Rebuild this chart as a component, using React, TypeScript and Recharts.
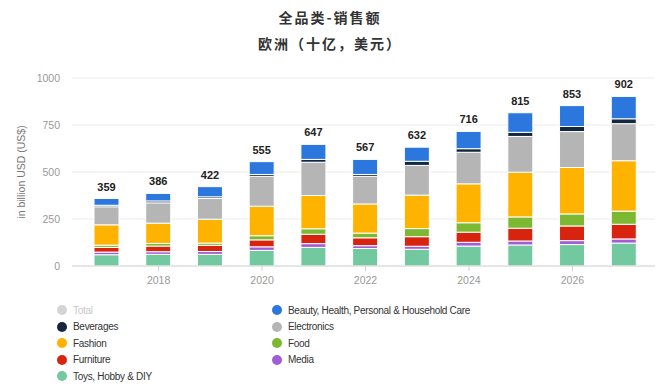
import { BarChart, Bar, XAxis, YAxis, CartesianGrid, LabelList, Label } from 'recharts';

const years = ['2017', '2018', '2019', '2020', '2021', '2022', '2023', '2024', '2025', '2026', '2027'];
const toys = [60, 62, 62, 83, 99, 93, 89, 106, 112, 114, 122];
const media = [14, 14, 15, 19, 20, 15, 16, 20, 21, 21, 22];
const furniture = [25, 30, 33, 37, 50, 42, 51, 54, 68, 78, 78];
const food = [12, 14, 12, 22, 29, 25, 43, 50, 60, 64, 70];
const fashion = [108, 108, 127, 157, 177, 155, 178, 207, 238, 247, 268];
const electronics = [96, 108, 110, 159, 177, 147, 158, 168, 190, 191, 197];
const beverages = [8, 10, 9, 10, 15, 10, 22, 19, 22, 27, 26];
const beauty = [36, 40, 54, 68, 80, 80, 75, 92, 104, 111, 119];
const totals = [359, 386, 422, 555, 647, 567, 632, 716, 815, 853, 902];
const yTicks = [0, 250, 500, 750, 1000];

const data = years.map((year, i) => ({
  year,
  toys: toys[i],
  media: media[i],
  furniture: furniture[i],
  food: food[i],
  fashion: fashion[i],
  electronics: electronics[i],
  beverages: beverages[i],
  beauty: beauty[i],
  total: totals[i],
}));

// bottom to top
const series = [
  { key: 'toys', name: 'Toys, Hobby & DIY', color: '#72c9a0' },
  { key: 'media', name: 'Media', color: '#a25cd6' },
  { key: 'furniture', name: 'Furniture', color: '#d8230f' },
  { key: 'food', name: 'Food', color: '#7cb832' },
  { key: 'fashion', name: 'Fashion', color: '#fdb300' },
  { key: 'electronics', name: 'Electronics', color: '#b5b5b5' },
  { key: 'beverages', name: 'Beverages', color: '#13283f' },
  { key: 'beauty', name: 'Beauty, Health, Personal & Household Care', color: '#2c77dd' },
];

const leftLegend = [
  { name: 'Total', color: '#d4d4d4', muted: true },
  { name: 'Beverages', color: '#13283f' },
  { name: 'Fashion', color: '#fdb300' },
  { name: 'Furniture', color: '#d8230f' },
  { name: 'Toys, Hobby & DIY', color: '#72c9a0' },
];
const rightLegend = [
  { name: 'Beauty, Health, Personal & Household Care', color: '#2c77dd' },
  { name: 'Electronics', color: '#b5b5b5' },
  { name: 'Food', color: '#7cb832' },
  { name: 'Media', color: '#a25cd6' },
];

const font = '"Liberation Sans", Arial, sans-serif';

function YearTick(props: any) {
  const { x, y, payload } = props;
  const yr = Number(payload.value);
  if (yr % 2 !== 0) return null;
  return (
    <g>
      <line x1={x} x2={x} y1={y - 8} y2={y - 3} stroke="#cfcfcf" />
      <text x={x} y={y + 10} textAnchor="middle" fontSize={10.5} fill="#999" fontFamily={font}>
        {payload.value}
      </text>
    </g>
  );
}

function LegendColumn({ items, left }: { items: any[]; left: number }) {
  return (
    <div style={{ position: 'absolute', left, top: 302 }}>
      {items.map((it) => (
        <div key={it.name} style={{ display: 'flex', alignItems: 'center', height: 16.5 }}>
          <span
            style={{
              display: 'inline-block',
              width: 10,
              height: 10,
              borderRadius: 5,
              background: it.color,
              marginRight: 6,
            }}
          />
          <span
            style={{
              fontSize: 10,
              letterSpacing: -0.3,
              color: it.muted ? '#c8c8c8' : '#333',
              fontFamily: font,
            }}
          >
            {it.name}
          </span>
        </div>
      ))}
    </div>
  );
}

const titleStyle = {
  position: 'absolute' as const,
  width: 660,
  textAlign: 'center' as const,
  fontFamily: '"Noto Sans CJK SC", sans-serif',
  fontWeight: 600,
  fontSize: 14,
  letterSpacing: 2,
  color: '#333',
};

export default function App() {
  return (
    <div style={{ position: 'absolute', left: 0, top: 0, width: 660, height: 387, background: '#fff', overflow: 'hidden' }}>
      <div style={{ ...titleStyle, top: 7 }}>全品类-销售额</div>
      <div style={{ ...titleStyle, top: 33 }}>欧洲（十亿，美元）</div>
      <div style={{ position: 'absolute', left: 0, top: 0 }}>
        <BarChart
          width={660}
          height={387}
          data={data}
          margin={{ top: 78, right: 5, bottom: 91, left: 0 }}
          barSize={25}
        >
          <CartesianGrid vertical={false} stroke="#ebebeb" />
          <XAxis
            dataKey="year"
            interval={0}
            padding={{ left: 9, right: 5 }}
            axisLine={{ stroke: '#d6d6d6' }}
            tickLine={false}
            tick={<YearTick />}
            height={30}
          />
          <YAxis
            width={72}
            domain={[0, 1000]}
            ticks={yTicks}
            axisLine={false}
            tickLine={false}
            tickSize={0}
            tickMargin={12}
            tick={{ fontSize: 10.5, fill: '#999', fontFamily: font }}
          >
            <Label
              value="in billion USD (US$)"
              angle={-90}
              position="insideLeft"
              offset={21}
              style={{ textAnchor: 'middle', fontSize: 10.5, fill: '#777', fontFamily: font }}
            />
          </YAxis>
          {series.map((s, idx) => (
            <Bar
              key={s.key}
              dataKey={s.key}
              name={s.name}
              stackId="a"
              fill={s.color}
              stroke="#ffffff"
              strokeWidth={1}
              isAnimationActive={false}
            >
              {idx === series.length - 1 && (
                <LabelList
                  dataKey="total"
                  position="top"
                  offset={8}
                  style={{ fontSize: 11, fontWeight: 700, fill: '#222', fontFamily: font }}
                />
              )}
            </Bar>
          ))}
        </BarChart>
      </div>
      <LegendColumn items={leftLegend} left={57} />
      <LegendColumn items={rightLegend} left={272} />
    </div>
  );
}
